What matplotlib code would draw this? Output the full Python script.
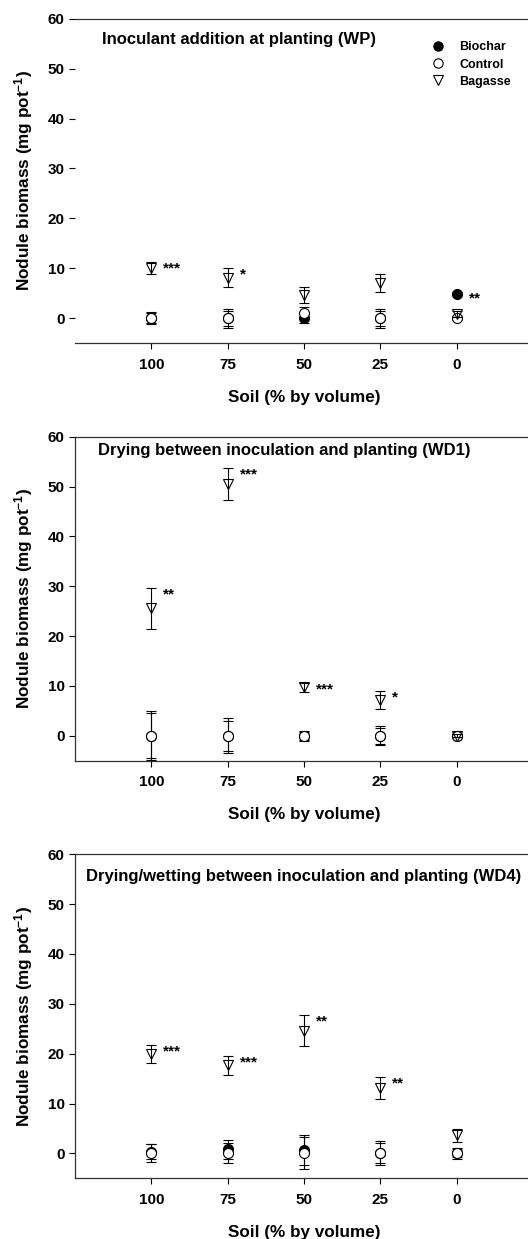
"""Nodule biomass vs soil fraction: three inoculation treatments (WP, WD1, WD4)."""
import numpy as np
import matplotlib; matplotlib.use("Agg")
import matplotlib.pyplot as plt
from matplotlib.lines import Line2D

plt.rcParams["font.family"] = ["Liberation Sans", "DejaVu Sans"]
plt.rcParams["font.weight"] = "bold"
plt.rcParams["mathtext.fontset"] = "custom"
plt.rcParams["mathtext.rm"] = "Liberation Sans:bold"
plt.rcParams["mathtext.bf"] = "Liberation Sans:bold"
plt.rcParams["mathtext.default"] = "bf"

soil = [100, 75, 50, 25, 0]
titles = ["Inoculant addition at planting (WP)",
          "Drying between inoculation and planting (WD1)",
          "Drying/wetting between inoculation and planting (WD4)"]

# WP
wp_biochar = [0, 0, 0, 0, 4.9];       wp_biochar_err = [1.0, 1.5, 1.0, 1.5, 0.3]
wp_control = [0, 0, 1.1, 0, 0];       wp_control_err = [1.2, 1.9, 1.2, 1.9, 0.4]
wp_bagasse = [10.0, 8.1, 4.6, 7.0, 0.9]; wp_bagasse_err = [1.2, 1.9, 1.6, 1.8, 0.6]
wp_stars = ["***", "*", "", "", "**"]

# WD1
wd1_biochar = [0, 0, 0, 0, 0];        wd1_biochar_err = [4.5, 3.0, 0.8, 1.6, 0.2]
wd1_control = [0, 0, 0, 0, 0];        wd1_control_err = [4.9, 3.5, 1.0, 1.9, 0.3]
wd1_bagasse = [25.6, 50.6, 9.7, 7.1, 0.0]; wd1_bagasse_err = [4.1, 3.2, 0.9, 1.8, 0.3]
wd1_stars = ["**", "***", "***", "*", ""]

# WD4
wd4_biochar = [0.3, 0.8, 0.6, 0, 0];  wd4_biochar_err = [1.5, 1.9, 3.0, 2.0, 0.8]
wd4_control = [0, 0, 0, 0, 0];        wd4_control_err = [1.8, 2.0, 3.2, 2.4, 1.1]
wd4_bagasse = [20.0, 17.7, 24.6, 13.2, 3.6]; wd4_bagasse_err = [1.8, 1.9, 3.1, 2.2, 1.3]
wd4_stars = ["***", "***", "**", "**", ""]

panels = [
    (wp_biochar, wp_biochar_err, wp_control, wp_control_err, wp_bagasse, wp_bagasse_err, wp_stars),
    (wd1_biochar, wd1_biochar_err, wd1_control, wd1_control_err, wd1_bagasse, wd1_bagasse_err, wd1_stars),
    (wd4_biochar, wd4_biochar_err, wd4_control, wd4_control_err, wd4_bagasse, wd4_bagasse_err, wd4_stars),
]

STY = {
    "Biochar": dict(marker="o", ms=7.2, mfc="black", mec="black", zorder=2),
    "Control": dict(marker="o", ms=7.2, mfc="white", mec="black", zorder=3),
    "Bagasse": dict(marker="v", ms=7.5, mfc="none", mec="black", zorder=4),
}

fig = plt.figure(figsize=(5.28, 12.39), dpi=100)
rects = [(0.142, 0.7232, 0.8674, 0.2615),
         (0.142, 0.3860, 0.8674, 0.2615),
         (0.142, 0.0490, 0.8674, 0.2615)]
title_pos = [(0.059, 0.938), (0.050, 0.959), (0.024, 0.930)]

for i, (rect, data) in enumerate(zip(rects, panels)):
    b, be, c, ce, g, ge, stars = data
    ax = fig.add_axes(rect)
    for name, v, e in (("Biochar", b, be), ("Control", c, ce), ("Bagasse", g, ge)):
        s = STY[name]
        ax.errorbar(soil, v, yerr=e, fmt="none", ecolor="black", elinewidth=0.8,
                    capsize=3.3, capthick=0.8, zorder=s["zorder"])
        ax.plot(soil, v, ls="none", marker=s["marker"], ms=s["ms"], mfc=s["mfc"],
                mec=s["mec"], mew=0.8, zorder=s["zorder"] + 0.5)
    tops = np.max([np.add(b, be), np.add(c, ce), np.add(g, ge)], axis=0)
    for x, t, st in zip(soil, tops, stars):
        if st:
            ax.text(x - 3.9, t - 2.1, st, ha="left", va="baseline", fontsize=11, fontweight="bold")
    ax.set_xlim(125, -25)
    ax.set_ylim(-5, 60)
    ax.set_xticks(soil)
    ax.set_yticks(range(0, 61, 10))
    ax.tick_params(direction="out", length=4, width=0.8, pad=3.5, labelsize=11)
    ax.tick_params(axis="x", pad=6.5)
    for sp in ax.spines.values():
        sp.set_linewidth(0.9)
        sp.set_color("#333333")
    if i == 0:
        ax.spines["left"].set_visible(False)
    ax.set_xlabel("Soil (% by volume)", fontsize=12.3, fontweight="bold", labelpad=13)
    ax.set_ylabel("Nodule biomass (mg pot$^{-1}$)", fontsize=12.3, fontweight="bold")
    ax.yaxis.set_label_coords(-0.088, 0.5)
    tx, ty = title_pos[i]
    ax.text(tx, ty, titles[i], transform=ax.transAxes, ha="left", va="center",
            fontsize=12, fontweight="bold")
    if i == 0:
        handles = [Line2D([], [], ls="none", marker=STY[n]["marker"], ms=STY[n]["ms"] - 0.5,
                          mfc=STY[n]["mfc"], mec=STY[n]["mec"], mew=0.8) for n in STY]
        ax.legend(handles, list(STY), loc="upper left", bbox_to_anchor=(0.779, 0.931),
                  frameon=False, borderpad=0, borderaxespad=0,
                  handlelength=1, handletextpad=1.2, labelspacing=0.42,
                  prop={"weight": "bold", "size": 9})

plt.savefig("out.png", dpi=100, facecolor="white")
